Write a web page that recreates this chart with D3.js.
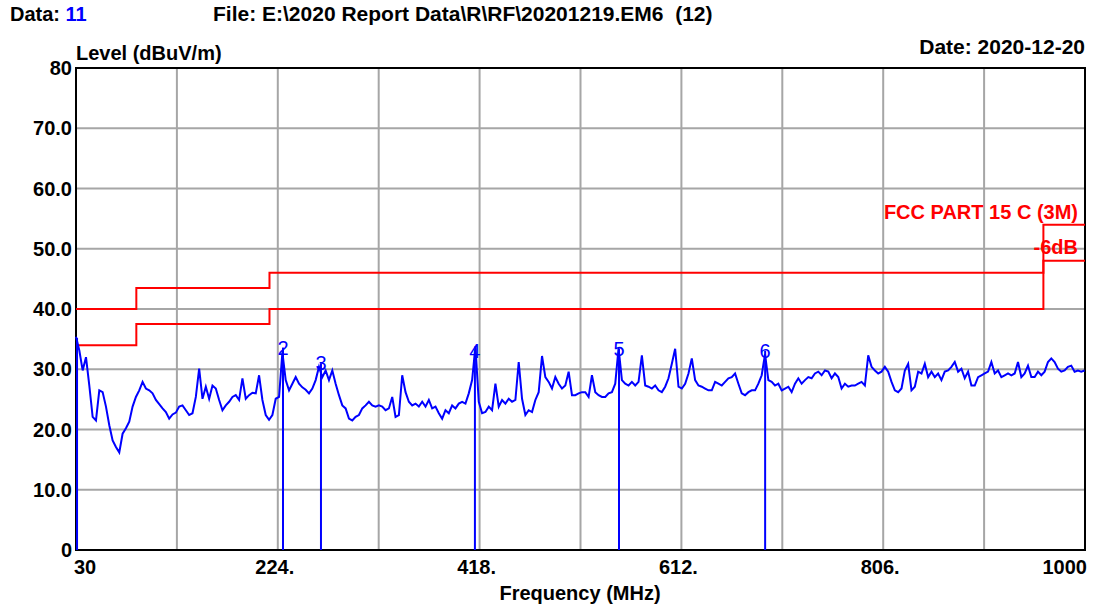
<!DOCTYPE html>
<html>
<head>
<meta charset="UTF-8">
<style>
  body { margin: 0; background: #fff; }
  text { font-family: "Liberation Sans", Arial, sans-serif; }
  .hdr { font-size: 20px; font-weight: bold; fill: #000; }
  .tick { font-size: 20px; font-weight: bold; fill: #000; }
  .grid { stroke: #a6a6a6; stroke-width: 2; }
  .limit { fill: none; stroke: #ff0000; stroke-width: 2; }
  .trace { fill: none; stroke: #0000ff; stroke-width: 2; stroke-linejoin: miter; }
  .mk { stroke: #0000ff; stroke-width: 2; }
  .mklabel { font-family: "Liberation Sans Narrow", "Liberation Sans", sans-serif; font-size: 20px; fill: #0000ff; }
  .red { font-size: 20px; font-weight: bold; fill: #ff0000; }
</style>
<script src="https://d3js.org/d3.v7.min.js"></script>
</head>
<body>
<svg id="chart"></svg>
<script>

const yTicks = [0, 10, 20, 30, 40, 50, 60, 70, 80];
const yTickLabels = ['0', '10.0', '20.0', '30.0', '40.0', '50.0', '60.0', '70.0', '80'];
const xGrid = [30, 127, 224, 321, 418, 515, 612, 709, 806, 903, 1000];
const xTicks = [30, 224, 418, 612, 806, 1000];
const xTickLabels = ['30', '224.', '418.', '612.', '806.', '1000'];

// FCC part 15 C (3m) limit and the -6dB margin line
const limitFreq = [30, 88, 216, 960, 1000];
const limitLevel = [40, 43.5, 46, 54, 54];
const marginLevel = [34, 37.5, 40, 48, 48];

// peak markers
const markerNo = ['1', '2', '3', '4', '5', '6'];
const markerFreq = [31.0, 229.0, 265.5, 413.5, 552.0, 692.5];
const markerLevel = [35.2, 33.6, 31.0, 33.0, 33.4, 33.1];

// measured trace, 30 MHz start, 3.2 MHz step
const traceStart = 30;
const traceStep = 3.2;
const traceLevel = [
  35.4, 33.1, 29.8, 32.0, 27.3, 22.1, 21.5, 26.5, 26.2, 23.8,
  20.7, 18.2, 17.1, 16.2, 19.3, 20.2, 21.3, 23.8, 25.4, 26.5,
  27.9, 26.8, 26.5, 26.0, 24.9, 24.2, 23.5, 22.9, 21.8, 22.5,
  22.8, 23.8, 24.0, 23.2, 22.4, 22.7, 25.4, 30.1, 25.1, 27.1,
  25.1, 27.3, 26.8, 24.9, 23.2, 24.0, 24.6, 25.4, 25.7, 24.9,
  28.5, 25.1, 25.7, 26.1, 26.0, 29.0, 24.9, 22.4, 21.6, 22.4,
  25.1, 25.4, 32.8, 28.2, 26.5, 27.6, 28.7, 27.6, 27.0, 26.6,
  26.0, 26.8, 28.2, 30.4, 28.7, 29.8, 28.2,
  29.8, 27.6, 25.7, 24.0, 23.5, 21.8, 21.5, 22.1, 22.4, 23.5,
  24.0, 24.6, 24.0, 23.8, 24.0, 23.8, 23.2, 23.5, 25.4, 22.1,
  22.4, 29.0, 26.2, 24.6, 24.0, 24.3, 23.8, 24.6, 23.8, 24.9,
  23.5, 23.8, 22.7, 21.8, 23.2, 22.7, 24.0, 23.5, 24.3, 24.6,
  24.3, 26.0, 28.2, 33.8, 24.6, 22.7, 22.9, 23.8, 23.2, 27.6,
  23.8, 24.9, 24.3, 25.1, 24.6, 24.9, 31.2, 25.1, 22.4, 23.2,
  22.9, 24.9, 26.2, 32.2, 28.7, 27.9, 26.8, 28.7, 27.6, 26.8,
  27.3, 29.6, 25.7, 25.7, 26.0, 26.2,
  26.2, 25.4, 29.0, 26.2, 25.7, 25.4, 25.4, 26.0, 26.2, 27.6,
  33.5, 28.2, 27.6, 27.3, 27.9, 27.3, 27.9, 32.3, 27.3, 27.1,
  26.8, 27.3, 26.5, 26.2, 27.1, 28.5, 30.9, 33.4, 27.1, 26.8,
  27.6, 29.3, 31.8, 28.2, 27.3, 27.1, 26.8, 26.5, 26.5, 27.9,
  27.6, 27.3, 27.9, 28.5, 28.7, 29.3, 27.6, 26.0, 25.7, 26.2,
  26.5, 26.5, 27.6, 29.0, 32.5, 28.2, 27.9, 27.3, 27.6, 26.5,
  26.8, 27.1, 26.2, 27.6, 28.5, 27.6, 28.2, 28.7, 28.5, 29.3,
  29.6, 29.0, 29.8, 29.6, 28.5,
  29.3, 28.7, 26.8, 27.6, 27.1, 27.3, 27.3, 27.6, 27.9, 27.3,
  32.3, 30.4, 29.8, 29.3, 29.6, 30.4, 29.6, 27.9, 26.5, 26.2,
  26.8, 29.8, 30.9, 26.5, 27.1, 29.6, 29.3, 30.9, 28.7, 29.6,
  28.7, 29.3, 28.2, 29.6, 29.8, 30.4, 31.2, 29.6, 30.1, 28.5,
  29.6, 27.3, 27.3, 28.7, 29.0, 29.3, 29.6, 31.2, 29.3, 29.8,
  28.7, 29.0, 29.3, 29.0, 29.3, 31.2, 28.7, 29.3, 30.6, 28.7,
  28.7, 29.6, 29.0, 29.6, 31.2, 31.8, 31.2, 30.1, 29.6, 29.8,
  30.4, 30.6, 29.6, 29.8, 29.6, 29.8
];

const size = { width: 1105, height: 611 };
const plot = { left: 76, right: 1085, top: 68, bottom: 550 };

const svg = d3.select('#chart')
              .attr('width', size.width)
              .attr('height', size.height);

const xScale = d3.scaleLinear()
                 .domain([30, 1000])
                 .range([plot.left, plot.right]);
const yScale = d3.scaleLinear()
                 .domain([0, 80])
                 .range([plot.bottom, plot.top]);

// grid
svg.append('g').selectAll('line')
   .data(xGrid)
   .enter()
   .append('line')
   .attr('class', 'grid')
   .attr('x1', function(d) { return xScale(d); })
   .attr('x2', function(d) { return xScale(d); })
   .attr('y1', plot.top)
   .attr('y2', plot.bottom);
svg.append('g').selectAll('line')
   .data(yTicks)
   .enter()
   .append('line')
   .attr('class', 'grid')
   .attr('x1', plot.left)
   .attr('x2', plot.right)
   .attr('y1', function(d) { return yScale(d); })
   .attr('y2', function(d) { return yScale(d); });

// frame
svg.append('rect')
   .attr('x', plot.left)
   .attr('y', plot.top)
   .attr('width', plot.right - plot.left)
   .attr('height', plot.bottom - plot.top)
   .attr('fill', 'none')
   .attr('stroke', '#000')
   .attr('stroke-width', 2);

// limit lines
const stepLine = d3.line()
                   .x(function(d) { return xScale(d[0]); })
                   .y(function(d) { return yScale(d[1]); })
                   .curve(d3.curveStepAfter);
svg.append('path')
   .attr('class', 'limit')
   .attr('d', stepLine(d3.zip(limitFreq, limitLevel)));
svg.append('path')
   .attr('class', 'limit')
   .attr('d', stepLine(d3.zip(limitFreq, marginLevel)));

// trace
const traceLine = d3.line()
                    .x(function(d, i) { return xScale(traceStart + i * traceStep); })
                    .y(function(d) { return yScale(d); });
svg.append('path')
   .attr('class', 'trace')
   .attr('d', traceLine(traceLevel));

// markers
const markers = d3.range(markerNo.length).map(function(i) {
  return { no: markerNo[i], freq: markerFreq[i], level: markerLevel[i] };
});
svg.append('g').selectAll('line')
   .data(markers)
   .enter()
   .append('line')
   .attr('class', 'mk')
   .attr('x1', function(d) { return xScale(d.freq); })
   .attr('x2', function(d) { return xScale(d.freq); })
   .attr('y1', function(d) { return yScale(d.level); })
   .attr('y2', yScale(0));
svg.append('g').selectAll('text')
   .data(markers.slice(1))
   .enter()
   .append('text')
   .attr('class', 'mklabel')
   .attr('x', function(d) { return xScale(d.freq); })
   .attr('y', function(d) { return yScale(d.level); })
   .attr('text-anchor', 'middle')
   .attr('dominant-baseline', 'central')
   .text(function(d) { return d.no; });

// axis labels
svg.append('g').selectAll('text')
   .data(yTicks)
   .enter()
   .append('text')
   .attr('class', 'tick')
   .attr('x', plot.left - 4)
   .attr('y', function(d) { return yScale(d); })
   .attr('text-anchor', 'end')
   .attr('dominant-baseline', 'central')
   .text(function(d, i) { return yTickLabels[i]; });
svg.append('g').selectAll('text')
   .data(xTicks)
   .enter()
   .append('text')
   .attr('class', 'tick')
   .attr('x', function(d, i) {
     if (i === 0) return xScale(d) - 2;
     if (i === xTicks.length - 1) return xScale(d) + 2;
     return xScale(d) - 3;
   })
   .attr('y', plot.bottom + 24)
   .attr('text-anchor', function(d, i) {
     if (i === 0) return 'start';
     if (i === xTicks.length - 1) return 'end';
     return 'middle';
   })
   .text(function(d, i) { return xTickLabels[i]; });

svg.append('text')
   .attr('class', 'tick')
   .attr('x', 580)
   .attr('y', 600)
   .attr('text-anchor', 'middle')
   .text('Frequency (MHz)');

svg.append('text')
   .attr('class', 'hdr')
   .attr('x', plot.left)
   .attr('y', 60)
   .text('Level (dBuV/m)');

// header
const dataText = svg.append('text')
   .attr('class', 'hdr')
   .attr('x', 10)
   .attr('y', 21);
dataText.append('tspan').text('Data: ');
dataText.append('tspan').attr('fill', '#0000ff').text('11');

svg.append('text')
   .attr('class', 'hdr')
   .attr('x', 213)
   .attr('y', 21)
   .style('font-size', '21px')
   .style('white-space', 'pre')
   .text('File: E:\\2020 Report Data\\R\\RF\\20201219.EM6  (12)');

svg.append('text')
   .attr('class', 'hdr')
   .attr('x', plot.right)
   .attr('y', 54)
   .attr('text-anchor', 'end')
   .style('font-size', '21px')
   .text('Date: 2020-12-20');

// legend
svg.append('text')
   .attr('class', 'red')
   .attr('x', 1078)
   .attr('y', 219)
   .attr('text-anchor', 'end')
   .text('FCC PART 15 C (3M)');
svg.append('text')
   .attr('class', 'red')
   .attr('x', 1078)
   .attr('y', 254)
   .attr('text-anchor', 'end')
   .text('-6dB');

</script>
</body>
</html>
